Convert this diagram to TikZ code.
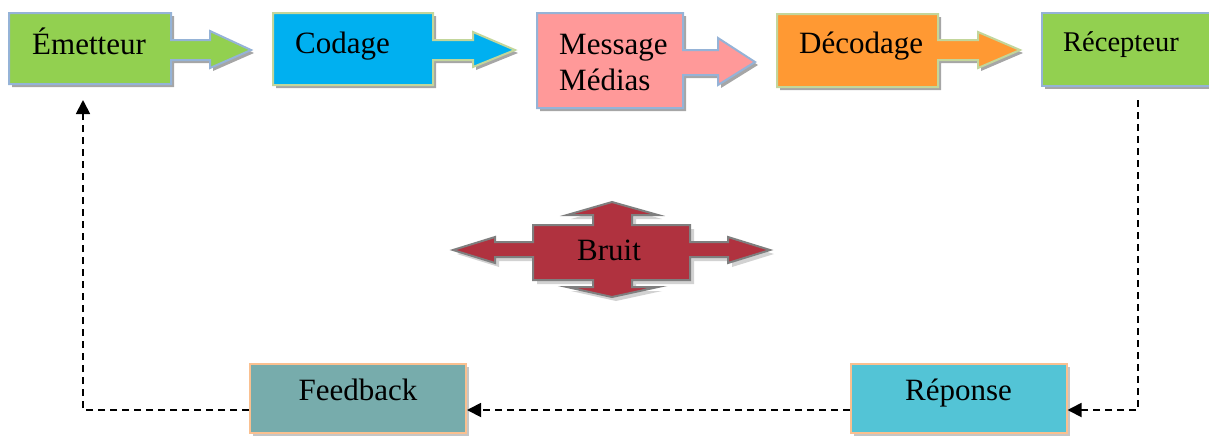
\documentclass[tikz,border=0pt]{standalone}
\usepackage{fontspec}
\setmainfont{Liberation Serif}
\usetikzlibrary{shadows,arrows.meta}
\definecolor{cGreen}{HTML}{92D050}
\definecolor{cBlue}{HTML}{00B0F0}
\definecolor{cPink}{HTML}{FF9999}
\definecolor{cOrange}{HTML}{FF9933}
\definecolor{cBruit}{HTML}{B0323F}
\definecolor{cFeed}{HTML}{77ACAC}
\definecolor{cRep}{HTML}{53C4D6}
\definecolor{bBlue}{HTML}{95B3D7}
\definecolor{bGreen}{HTML}{C3D69B}
\definecolor{bPeach}{HTML}{FAC090}
\definecolor{bGray}{HTML}{7F7F7F}
\tikzset{
  callout/.style={line width=2pt, line join=miter,
    drop shadow={shadow xshift=3pt, shadow yshift=-3pt, fill=gray!70, opacity=1}},
  label/.style={font=\fontsize{31}{36}\selectfont, inner sep=0pt, anchor=base west},
  bottombox/.style={draw=bPeach, line width=2pt, minimum width=216pt, minimum height=69pt,
    font=\fontsize{31}{36}\selectfont, text height=0.68em, text depth=0.22em,
    drop shadow={shadow xshift=3pt, shadow yshift=-3pt, fill=gray!45, opacity=1}},
  feedline/.style={dashed, dash pattern=on 7pt off 5pt, line width=1.8pt,
    -{Triangle[length=14pt,width=14pt]}}
}
\begin{document}
\begin{tikzpicture}[x=1pt,y=-1pt]
\useasboundingbox (0,0) rectangle (1209,437);

% top row: boxes with right-pointing arrows
\draw[callout, draw=bBlue, fill=cGreen]
  (9,13) -- (171,13) -- (171,40) -- (210,40) -- (210,31) -- (251,50)
  -- (210,68) -- (210,60) -- (171,60) -- (171,84) -- (9,84) -- cycle;
\node[label] (emet) at (32,54) {Émetteur};

\draw[callout, draw=bGreen, fill=cBlue]
  (273,13) -- (433,13) -- (433,40) -- (473,40) -- (473,32) -- (515,50)
  -- (473,67) -- (473,60) -- (433,60) -- (433,85) -- (273,85) -- cycle;
\node[label] (cod) at (295,53) {Codage};

\draw[callout, draw=bBlue, fill=cPink]
  (537,13) -- (683,13) -- (683,50) -- (718,50) -- (718,38) -- (755,62)
  -- (718,85) -- (718,75) -- (683,75) -- (683,108) -- (537,108) -- cycle;
\node[label] (msg) at (559,54) {Message};
\node[label] (med) at (559,90) {Médias};

\draw[callout, draw=bGreen, fill=cOrange]
  (777,14) -- (938,14) -- (938,40) -- (978,40) -- (978,32) -- (1020,50)
  -- (978,68) -- (978,60) -- (938,60) -- (938,87) -- (777,87) -- cycle;
\node[label] (dec) at (799,53) {Décodage};

\draw[callout, draw=bBlue, fill=cGreen] (1042,13) rectangle (1214,86);
\node[label, font=\fontsize{28.5}{34}\selectfont] (rec) at (1063,51) {Récepteur};

% noise: box with arrows in four directions
\draw[line width=2pt, draw=bGray, fill=cBruit, line join=miter,
      drop shadow={shadow xshift=4pt, shadow yshift=-4pt, fill=gray!35, opacity=1}]
  (533,225) -- (593,225) -- (593,215) -- (567,215) -- (612,202) -- (658,215)
  -- (632,215) -- (632,225) -- (690,225) -- (690,242) -- (728,242) -- (728,237)
  -- (770,250) -- (728,263) -- (728,257) -- (690,257) -- (690,280) -- (632,280)
  -- (632,287) -- (658,287) -- (612,297) -- (567,287) -- (593,287) -- (593,280)
  -- (533,280) -- (533,257) -- (495,257) -- (495,263) -- (453,250) -- (495,237)
  -- (495,242) -- (533,242) -- cycle;
\node[font=\fontsize{31}{36}\selectfont, inner sep=0pt, anchor=base] (bruit) at (609,260) {Bruit};

% bottom row
\node[bottombox, fill=cRep] (rep) at (958.5,398) {Réponse};
\node[bottombox, fill=cFeed] (fb) at (358,398) {Feedback};

% feedback loop, running along the lower part of the bottom boxes
\coordinate (recOut) at (1138,100);
\coordinate (emetIn) at (83,100);
\draw[feedline] (recOut) |- ([yshift=-12pt]rep.east);
\draw[feedline] ([yshift=-12pt]rep.west) -- ([yshift=-12pt]fb.east);
\draw[feedline] ([yshift=-12pt]fb.west) -| (emetIn);
\end{tikzpicture}
\end{document}
